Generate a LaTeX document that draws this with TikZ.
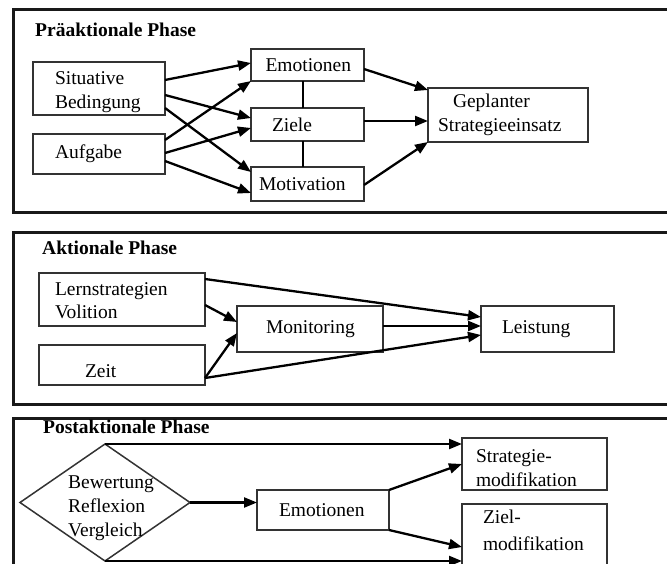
\documentclass[tikz,border=0pt]{standalone}
\usepackage{fontspec}
\setmainfont{Liberation Serif}
\usetikzlibrary{arrows.meta,shapes.geometric}
\begin{document}
\begin{tikzpicture}[x=1pt,y=-1pt,
  every node/.style={font=\fontsize{19.5}{24}\selectfont},
  frame/.style={draw=black!90,line width=3pt},
  phasetitle/.style={anchor=base west,inner sep=0pt,font=\fontsize{19.5}{24}\selectfont\bfseries},
  box/.style={draw=black!80,line width=1.5pt,anchor=north west,inner ysep=0pt,outer sep=0pt,align=left},
  conn/.style={line width=2.3pt,-{Triangle[length=13pt,width=10pt]}},
  link/.style={line width=1.8pt}
]
\useasboundingbox (0,0) rectangle (667,564);

% ---------- phase frames ----------
\draw[frame] (13,10) rectangle (674,213);
\draw[frame] (13,233) rectangle (674,404);
\draw[frame] (13,418) rectangle (674,575);

% ---------- pre-actional phase ----------
\node[phasetitle] (t1) at (35,37) {Präaktionale Phase};
\node[box,minimum width=132pt,minimum height=53pt,inner xsep=22pt,text width=88pt,
      text height=0pt,text depth=7pt] (sit) at (33,62) {Situative\\Bedingung};
\node[box,minimum width=132pt,minimum height=40pt,inner xsep=22pt,text width=88pt] (auf) at (33,134) {Aufgabe};
\node[box,minimum width=113pt,minimum height=32pt,inner xsep=14.5pt,text width=84pt] (emo) at (251,49) {Emotionen};
\node[box,minimum width=113pt,minimum height=33pt,inner xsep=21pt,text width=71pt] (zie) at (251,108) {Ziele};
\node[box,minimum width=113pt,minimum height=34pt,inner xsep=8pt,text width=97pt] (mot) at (251,167) {Motivation};
\node[box,minimum width=160pt,minimum height=54pt,inner xsep=10pt,text width=140pt] (gep) at (428,88)
      {\hspace*{15pt}Geplanter\\Strategieeinsatz};

\draw[conn] ([yshift=8.5pt]sit.east) -- ([yshift=2pt]emo.west);
\draw[conn] ([yshift=-6.5pt]sit.east) -- ([yshift=6.5pt]zie.west);
\draw[conn] ([yshift=-19.5pt]sit.east) -- ([yshift=12pt]mot.west);
\draw[conn] ([yshift=14pt]auf.east) -- ([yshift=-16pt]emo.west);
\draw[conn] ([yshift=1pt]auf.east) -- ([yshift=-3.5pt]zie.west);
\draw[conn] ([yshift=-7pt]auf.east) -- ([yshift=-9pt]mot.west);
\draw[link] ([xshift=-4.5pt]emo.south) -- ([xshift=-4.5pt]zie.north);
\draw[link] ([xshift=-4.5pt]zie.south) -- ([xshift=-4.5pt]mot.north);
\draw[conn] ([yshift=-4pt]emo.east) -- ([yshift=25pt]gep.west);
\draw[conn] ([yshift=3.5pt]zie.east) -- ([yshift=-6pt]gep.west);
\draw[conn] ([yshift=-1pt]mot.east) -- ([yshift=-27pt]gep.west);

% ---------- actional phase ----------
\node[phasetitle] (t2) at (42,255) {Aktionale Phase};
\node[box,minimum width=166pt,minimum height=53pt,inner xsep=16pt,text width=134pt,
      text height=0pt,text depth=9pt] (ler) at (39,273) {Lernstrategien\\Volition};
\node[box,minimum width=166pt,minimum height=40pt,inner xsep=46pt,text width=74pt,
      text height=24pt,text depth=0pt] (zei) at (39,345) {Zeit};
\node[box,line width=2.2pt,minimum width=146pt,minimum height=46pt,inner xsep=29pt,text width=88pt] (mon) at (237,306) {Monitoring};
\node[box,minimum width=133pt,minimum height=46pt,inner xsep=21pt,text width=91pt] (lei) at (481,306) {Leistung};

\draw[conn] ([yshift=20.5pt]ler.east) -- ([yshift=12pt]lei.west);
\draw[conn] ([yshift=-5.5pt]ler.east) -- ([yshift=7pt]mon.west);
\draw[conn] ([yshift=-13pt]zei.east) -- ([yshift=-4pt]mon.west);
\draw[conn] ([yshift=-13pt]zei.east) -- ([yshift=-6pt]lei.west);
\draw[conn] ([yshift=3pt]mon.east) -- ([yshift=3pt]lei.west);

% ---------- post-actional phase ----------
\node[phasetitle] (t3) at (43,433) {Postaktionale Phase};
\node[draw=black!80,line width=1.5pt,diamond,minimum width=170pt,minimum height=117pt,
      inner sep=0pt,outer sep=0pt] (dia) at (105,502.5) {};
\node[anchor=base west,align=left,text width=100pt,inner sep=0pt] (diatext) at (68,488)
      {Bewertung\\Reflexion\\Vergleich};
\node[box,minimum width=132pt,minimum height=40pt,inner xsep=22pt,text width=88pt] (emo3) at (257,490) {Emotionen};
\node[box,minimum width=145pt,minimum height=52pt,inner xsep=14pt,text width=117pt,
      text height=0pt,text depth=4pt] (str) at (462,438) {Strategie-\\modifikation};
\node[box,minimum width=145pt,minimum height=62pt,inner xsep=21pt,text width=103pt,
      text height=0pt,text depth=24pt] (zil) at (462,504) {Ziel-\\[3pt]modifikation};

\draw[conn] (dia.north) -- (dia.north -| str.west);
\draw[conn] (dia.east) -- (dia.east -| emo3.west);
\draw[conn] (emo3.north east) -- (str.west);
\draw[conn] (emo3.south east) -- ([yshift=-12pt]zil.west);
\draw[conn] (dia.south) -- (dia.south -| zil.west);
\end{tikzpicture}
\end{document}
